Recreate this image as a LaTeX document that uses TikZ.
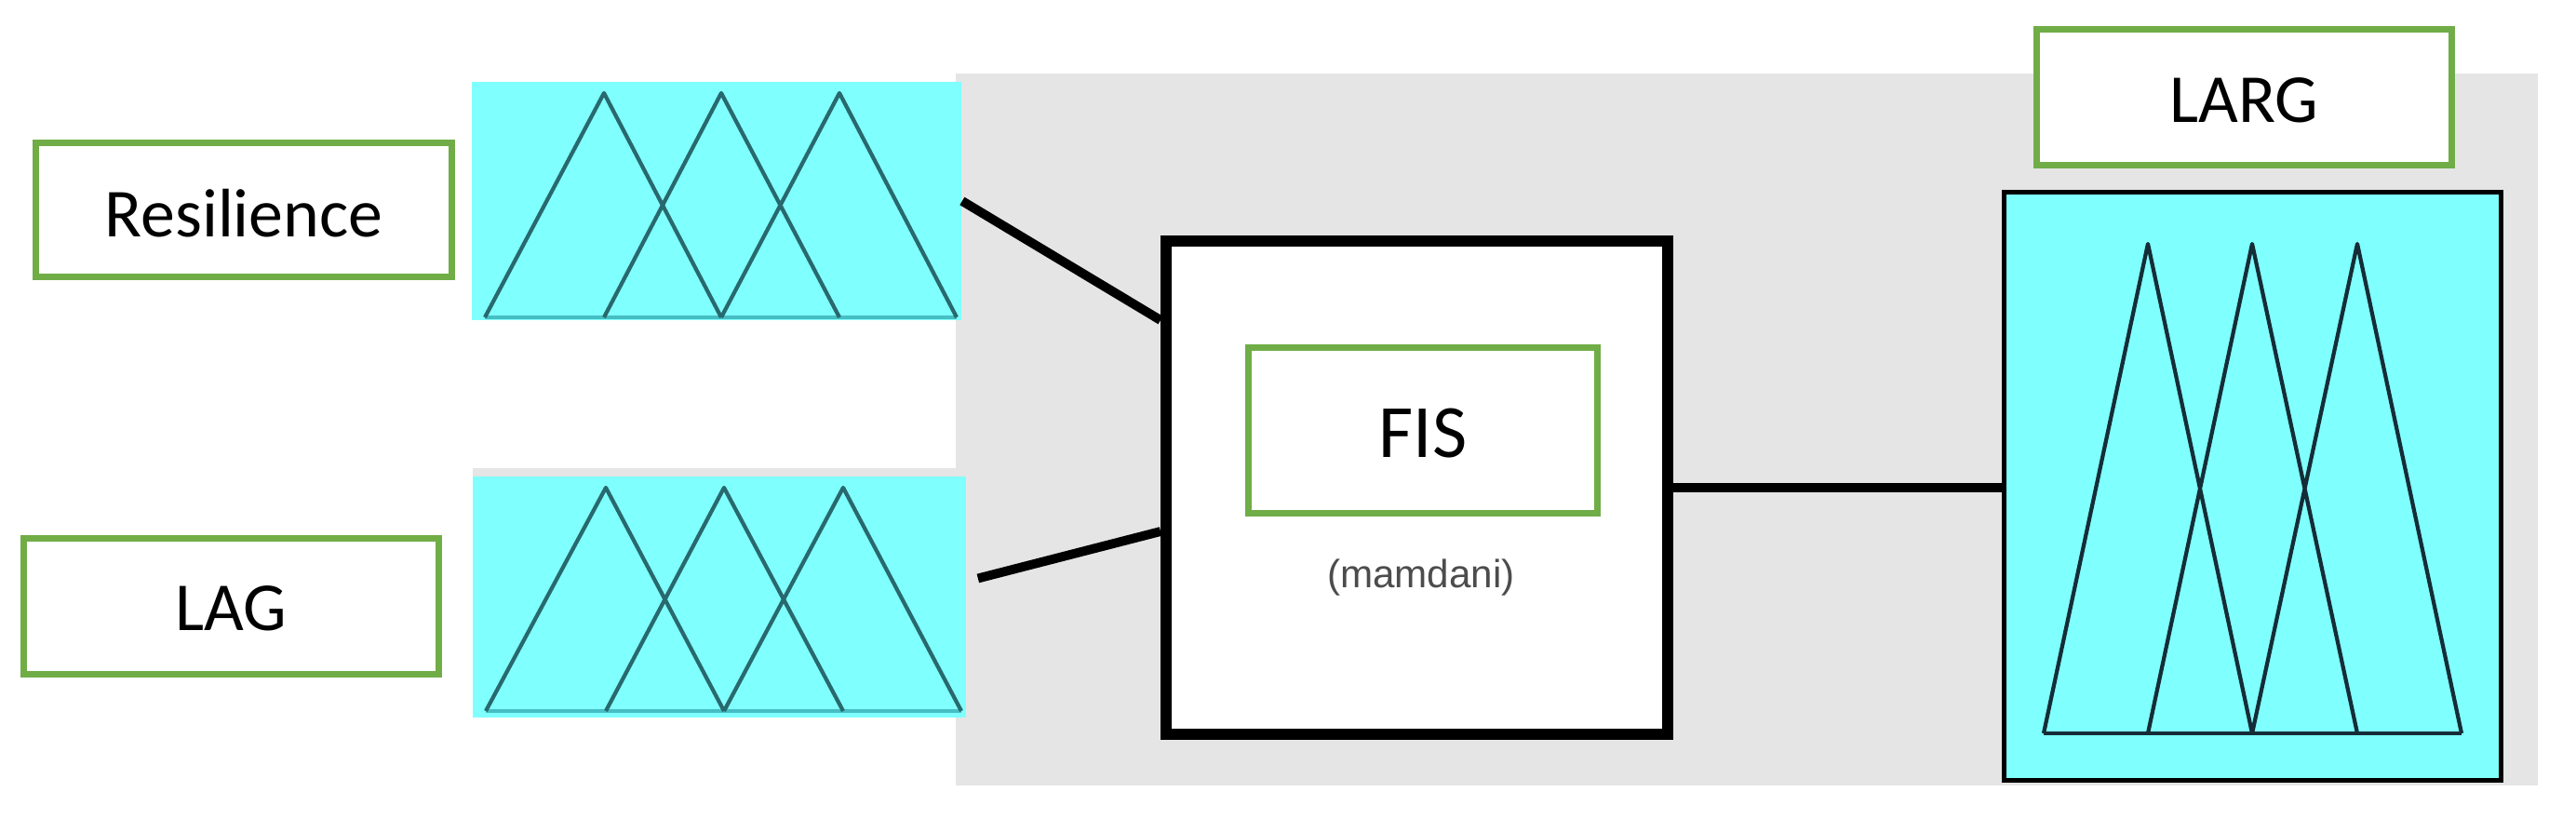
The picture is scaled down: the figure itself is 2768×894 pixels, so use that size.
\documentclass[tikz,border=0pt]{standalone}
\usepackage{fontspec}
\setmainfont{Carlito}
\newfontfamily\arialf{Liberation Sans}
\usetikzlibrary{calc}
\definecolor{bggray}{RGB}{229,229,229}
\definecolor{mfcyan}{RGB}{128,255,255}
\definecolor{lblgreen}{RGB}{112,173,71}
\definecolor{triteal}{RGB}{40,105,110}
\definecolor{tridark}{RGB}{20,45,55}
\definecolor{basecyan}{RGB}{70,190,195}
\begin{document}
\begin{tikzpicture}[x=0.01cm,y=-0.01cm,
  labelbox/.style={draw=lblgreen, line width=2pt, fill=white, inner sep=0pt,
    font=\fontsize{21pt}{25pt}\selectfont, text depth=0pt},
  mfbox/.style={fill=mfcyan, inner sep=0pt},
  conn/.style={line width=2.8pt, draw=black},
  triline/.style={line width=1.2pt, draw=triteal, line join=round},
  trilinedark/.style={line width=1.2pt, draw=tridark, line join=round},
]
\useasboundingbox (0,0) rectangle (2768,894);
\fill[white] (0,0) rectangle (2768,894);
\fill[bggray] (1027,79) rectangle (2727,844);
\fill[bggray] (508,503) rectangle (1038,512);

% label boxes of inputs
\node[labelbox, minimum width=4.46cm, minimum height=1.43cm] (res) at (262,225.5) {\raisebox{-2pt}{Resilience}};
\node[labelbox, minimum width=4.45cm, minimum height=1.45cm] (lag) at (248.5,651.5) {\raisebox{-1pt}{LAG}};

% membership function panels of inputs
\node[mfbox, minimum width=5.26cm, minimum height=2.56cm] (rescyan) at (770,216) {};
\node[mfbox, minimum width=5.30cm, minimum height=2.59cm] (lagcyan) at (773,641.5) {};

\draw[basecyan, line width=1.2pt] (521,341) -- (1028,341);
\draw[triline] (521,341) -- (649,100) -- (775,341)
               (649,341) -- (775,100) -- (902,341)
               (775,341) -- (902,100) -- (1028,341);
\draw[basecyan, line width=1.2pt] (522,764) -- (1033,764);
\draw[triline] (522,764) -- (651,524) -- (778,764)
               (651,764) -- (778,524) -- (906,764)
               (778,764) -- (906,524) -- (1033,764);

% FIS block
\node[draw=black, line width=3.3pt, fill=white, inner sep=0pt,
      minimum width=5.39cm, minimum height=5.30cm] (fis) at (1522.5,524) {};
\node[labelbox, minimum width=3.74cm, minimum height=1.77cm,
      font=\fontsize{23pt}{27pt}\selectfont] (fislbl) at (1529,462.5) {\raisebox{-1.5pt}{FIS}};
\node[font=\arialf\fontsize{12pt}{14pt}\selectfont, text=black!70] (mam) at (1527,621) {(mamdani)};

% output
\node[mfbox, draw=black, line width=1.4pt, minimum width=5.33cm, minimum height=6.31cm] (larg) at (2420.5,522.5) {};
\node[labelbox, minimum width=4.45cm, minimum height=1.45cm] (larglbl) at (2411.5,104.5) {\raisebox{-2pt}{LARG}};
\draw[trilinedark] (2196,788) -- (2645,788);
\draw[trilinedark] (2196,788) -- (2308,262) -- (2420,788)
                   (2308,788) -- (2420,262) -- (2533,788)
                   (2420,788) -- (2533,262) -- (2645,788);

% connectors
\draw[conn] (rescyan.east) -- ($(fis.north west)+(0,91)$);
\draw[conn] ($(lagcyan.east)+(12,-20)$) -- ($(fis.north west)+(0,318)$);
\draw[conn] (fis.east) -- (larg.west |- fis.east);
\end{tikzpicture}
\end{document}
